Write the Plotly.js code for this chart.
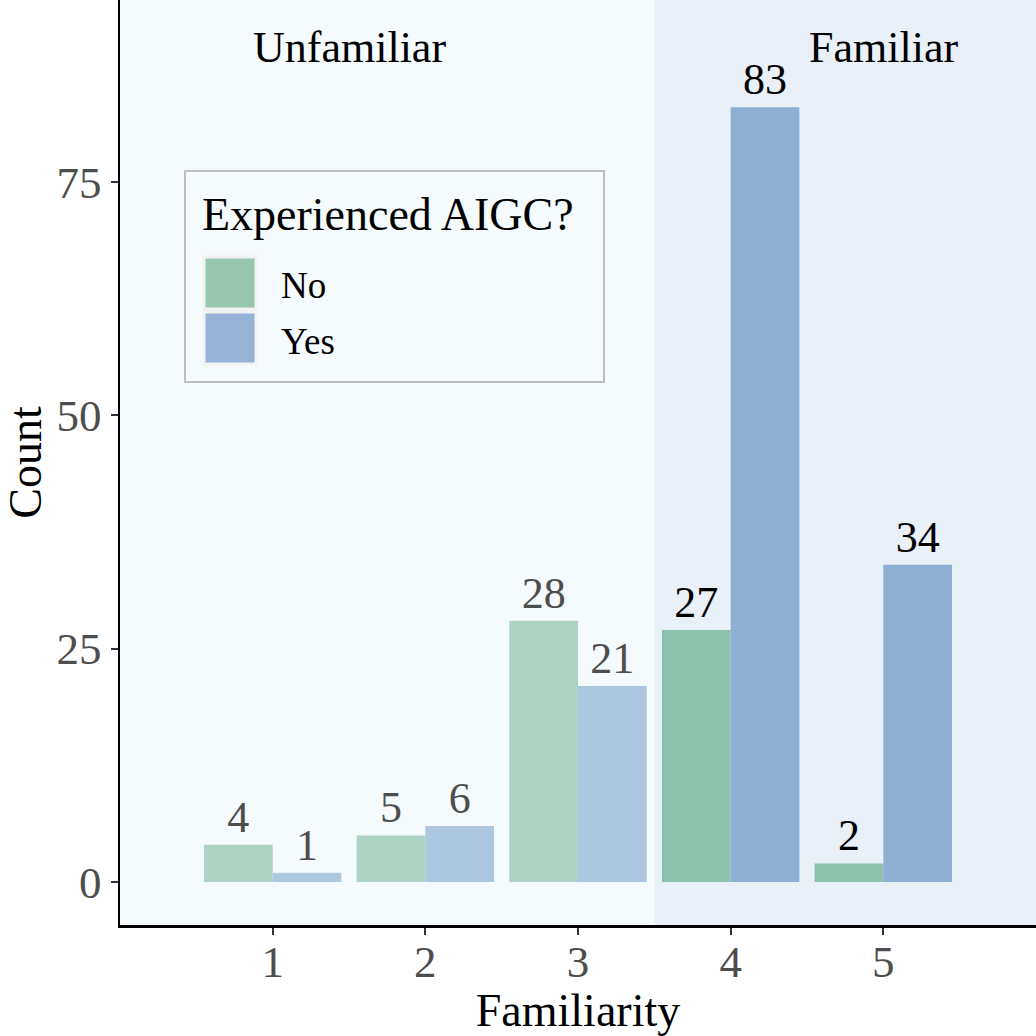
<!DOCTYPE html>
<html>
<head>
<meta charset="utf-8">
<script src="https://cdn.plot.ly/plotly-3.0.1.min.js"></script>
<style>
	html, body { margin: 0; padding: 0; background: #fff; }
	#chart { width: 1036px; height: 1036px; }
</style>
</head>
<body>
<div id="chart"></div>
<script>
// Familiarity rating vs. whether the respondent experienced AIGC
const familiarity = [1, 2, 3, 4, 5];
const countNo = [4, 5, 28, 27, 2];
const countYes = [1, 6, 21, 83, 34];
const group = ["Unfamiliar", "Unfamiliar", "Unfamiliar", "Familiar", "Familiar"];
const regionLabels = ["Unfamiliar", "Familiar"];
const legendTitle = "Experienced AIGC?";
const legendItems = ["No", "Yes"];
const yTicks = [0, 25, 50, 75];

const FONT = "Liberation Serif, Times New Roman, serif";
const colors = {
	No: { Familiar: "#8bc1ad", Unfamiliar: "#aed3c5" },
	Yes: { Familiar: "#8eafd4", Unfamiliar: "#adc7e0" },
};
const labelColor = { Familiar: "#000000", Unfamiliar: "#4d4d4d" };

function barTrace(name, values) {
	return {
		type: "bar",
		name: name,
		x: familiarity,
		y: values,
		text: values.map(String),
		textposition: "outside",
		constraintext: "none",
		cliponaxis: false,
		textfont: { family: FONT, size: 44, color: group.map((g) => labelColor[g]) },
		marker: { color: group.map((g) => colors[name][g]) },
		hoverinfo: "x+y",
		showlegend: false,
	};
}

const data = [barTrace("No", countNo), barTrace("Yes", countYes)];

// paper coords helpers (plot area 916 x 925 starting at left 120, top 0)
const px = (v) => (v - 120) / 916;
const py = (v) => (925 - v) / 925;

const shapes = [
	{ type: "rect", layer: "below", xref: "x", yref: "paper", x0: 0, x1: 3.5, y0: 0, y1: 1,
		fillcolor: "#f5fafd", line: { width: 0 } },
	{ type: "rect", layer: "below", xref: "x", yref: "paper", x0: 3.5, x1: 6, y0: 0, y1: 1,
		fillcolor: "#e9f0f7", line: { width: 0 } },
	// legend box
	{ type: "rect", xref: "paper", yref: "paper", x0: px(185), x1: px(604), y0: py(382), y1: py(171),
		fillcolor: "#f5fafd", line: { color: "#bebebe", width: 2 } },
	{ type: "rect", xref: "paper", yref: "paper", x0: px(204), x1: px(256), y0: py(309), y1: py(257),
		fillcolor: "#97c5ae", line: { color: "#f2f2f2", width: 3 } },
	{ type: "rect", xref: "paper", yref: "paper", x0: px(204), x1: px(256), y0: py(364), y1: py(312),
		fillcolor: "#95b3d7", line: { color: "#f2f2f2", width: 3 } },
];

function note(text, xref, x, y, size, xanchor) {
	return {
		text: text, xref: xref, yref: "paper", x: x, y: y,
		xanchor: xanchor, yanchor: "middle", showarrow: false,
		font: { family: FONT, size: size, color: "#000" },
	};
}

const annotations = [
	note(regionLabels[0], "x", 1.5, py(47), 44, "center"),
	note(regionLabels[1], "x", 5.0, py(47), 44, "center"),
	note(legendTitle, "paper", px(200), py(215), 46, "left"),
	note(legendItems[0], "paper", px(279), py(286), 37, "left"),
	note(legendItems[1], "paper", px(279), py(341), 37, "left"),
];

const layout = {
	width: 1036,
	height: 1036,
	margin: { l: 120, r: 0, t: 0, b: 111 },
	paper_bgcolor: "#ffffff",
	plot_bgcolor: "#ffffff",
	barmode: "group",
	bargap: 0.1,
	bargroupgap: 0,
	font: { family: FONT, color: "#000" },
	xaxis: {
		range: [0, 6],
		tickvals: familiarity,
		ticks: "outside",
		ticklen: 7,
		tickwidth: 2,
		tickcolor: "#333333",
		ticklabelstandoff: -12,
		tickfont: { family: FONT, size: 45, color: "#4d4d4d" },
		showline: true,
		linecolor: "#000",
		linewidth: 2.5,
		showgrid: false,
		zeroline: false,
		title: { text: "Familiarity", font: { family: FONT, size: 46, color: "#000" }, standoff: 0 },
	},
	yaxis: {
		range: [-4.6, 94.5],
		tickvals: yTicks,
		ticks: "outside",
		ticklen: 7,
		tickwidth: 2,
		tickcolor: "#333333",
		tickfont: { family: FONT, size: 45, color: "#4d4d4d" },
		showline: true,
		linecolor: "#000",
		linewidth: 2.5,
		showgrid: false,
		zeroline: false,
		title: { text: "Count", font: { family: FONT, size: 46, color: "#000" }, standoff: 2 },
	},
	shapes: shapes,
	annotations: annotations,
	showlegend: false,
};

Plotly.newPlot("chart", data, layout, { displayModeBar: false, staticPlot: true });
</script>
</body>
</html>
